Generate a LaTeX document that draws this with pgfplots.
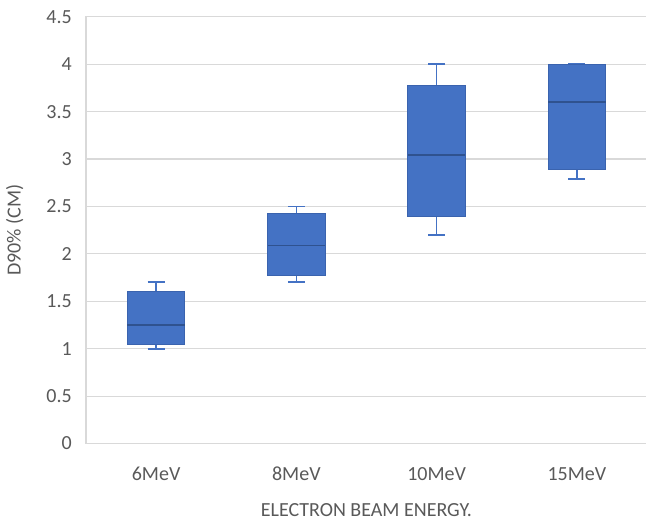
\documentclass[border=0pt]{standalone}
\usepackage{fontspec}
\setmainfont{Carlito}
\usepackage{pgfplots}
\pgfplotsset{compat=1.18}
\usepgfplotslibrary{statistics}
\definecolor{boxfill}{HTML}{4472C4}
\definecolor{boxedge}{HTML}{3A63AE}
\definecolor{medc}{HTML}{2F528F}
\definecolor{gridc}{HTML}{D9D9D9}
\definecolor{txt}{HTML}{595959}
\begin{document}
\begin{tikzpicture}
\useasboundingbox (-64.5pt,-58.9pt) rectangle (420pt,332.6pt);
\begin{axis}[
  at={(0,0)}, anchor=south west,
  scale only axis, width=420.75pt, height=320pt,
  xmin=-0.5, xmax=3.5, ymin=0, ymax=4.5,
  xtick={0,1,2,3}, xticklabels={6MeV,8MeV,10MeV,15MeV},
  ytick={0,0.5,1,1.5,2,2.5,3,3.5,4,4.5},
  ymajorgrids, grid style={gridc, line width=0.8pt},
  axis line style={gridc, line width=0.8pt},
  major tick length=0pt,
  font=\fontsize{15}{18}\selectfont,
  tick label style={txt},
  /pgf/number format/assume math mode=true,
  xticklabel style={anchor=base, yshift=-27.4pt},
  yticklabel style={anchor=east, inner xsep=0pt, xshift=-10.5pt},
  xlabel={ELECTRON BEAM ENERGY.},
  ylabel={D90\% (CM)},
  xlabel style={txt, at={(axis description cs:0.5,0)}, anchor=base, yshift=-55.1pt},
  ylabel style={txt, at={(axis description cs:-0.1164,0.5)}, anchor=base, rotate=0},
  boxplot/draw direction=y,
  boxplot/every box/.style={fill=boxfill, draw=boxedge, line width=0.6pt},
  boxplot/every median/.style={draw=medc, line width=1.1pt},
  boxplot/every whisker/.style={draw=boxfill, line width=1.3pt},
]
\addplot[draw=boxfill, solid, line width=1.3pt, boxplot prepared={draw position=0, lower whisker=1.0, lower quartile=1.05, median=1.25, upper quartile=1.6, upper whisker=1.7, box extend=0.41, whisker extend=0.12}] coordinates {};
\addplot[draw=boxfill, solid, line width=1.3pt, boxplot prepared={draw position=1, lower whisker=1.7, lower quartile=1.77, median=2.09, upper quartile=2.43, upper whisker=2.5, box extend=0.41, whisker extend=0.12}] coordinates {};
\addplot[draw=boxfill, solid, line width=1.3pt, boxplot prepared={draw position=2, lower whisker=2.2, lower quartile=2.39, median=3.04, upper quartile=3.78, upper whisker=4.0, box extend=0.41, whisker extend=0.12}] coordinates {};
\addplot[draw=boxfill, solid, line width=1.3pt, boxplot prepared={draw position=3, lower whisker=2.79, lower quartile=2.89, median=3.6, upper quartile=4.0, upper whisker=4.0, box extend=0.41, whisker extend=0.12}] coordinates {};
\end{axis}
\end{tikzpicture}
\end{document}
